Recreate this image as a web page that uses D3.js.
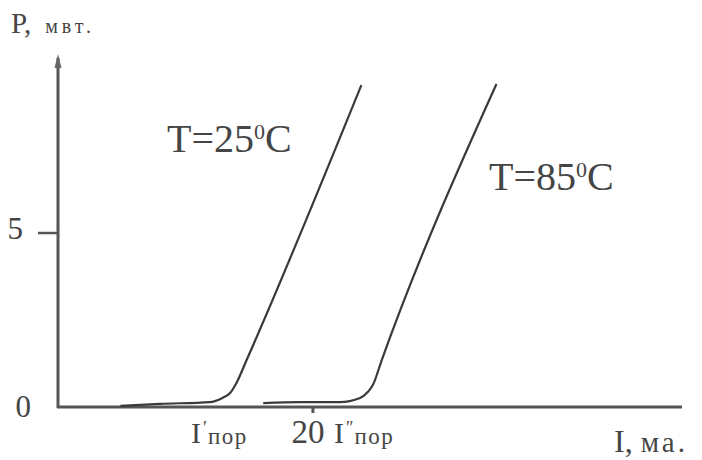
<!DOCTYPE html>
<html>
<head>
<meta charset="utf-8">
<script src="https://cdn.jsdelivr.net/npm/d3@7/dist/d3.min.js"></script>
<style>
  html, body { margin: 0; padding: 0; background: #fff; }
</style>
</head>
<body>
<svg id="chart" width="702" height="460"></svg>
<script>
// ---- data ----
const curve25I = [4.9, 8.0, 11.9, 12.9, 13.5, 14.0, 14.8, 23.8];
const curve25P = [0.03, 0.09, 0.14, 0.26, 0.40, 0.69, 1.35, 9.25];
const curve85I = [16.1, 19.0, 22.1, 23.7, 24.3, 24.7, 25.4, 34.4];
const curve85P = [0.11, 0.14, 0.14, 0.26, 0.43, 0.63, 1.35, 9.28];
const yTicks = [0, 5];
const xTicks = [20];
const seriesLabels = ["T=25", "T=85"];

const FONT = "Liberation Serif";
const svg = d3.select("#chart");
const x = d3.scaleLinear().domain([0, 48.8]).range([58, 680]);
const y = d3.scaleLinear().domain([0, 10]).range([407, 59]);
const ink = "#3a3a3a";
const txt = "#454545";

function addText(xp, yp, size) {
  return svg.append("text").attr("x", xp).attr("y", yp).attr("font-family", FONT)
    .attr("font-size", size).attr("fill", txt);
}

// axes
svg.append("line").attr("x1", x(0)).attr("x2", x(0)).attr("y1", y(0) + 1).attr("y2", 58)
  .attr("stroke", "#555").attr("stroke-width", 3);
svg.append("path").attr("d", `M${x(0)-3.5},68 L${x(0)},54 L${x(0)+3.5},68 Z`).attr("fill", "#666");
svg.append("line").attr("x1", x(0) - 1).attr("x2", 682).attr("y1", y(0)).attr("y2", y(0))
  .attr("stroke", "#555").attr("stroke-width", 3);

// y ticks
yTicks.forEach(t => {
  if (t > 0) {
    svg.append("line").attr("x1", 38).attr("x2", x(0)).attr("y1", y(t)).attr("y2", y(t))
      .attr("stroke", "#555").attr("stroke-width", 2.5);
  }
  addText(t === 0 ? 31 : 23, y(t) + (t === 0 ? 10 : 6), 31).attr("text-anchor", "end").text(t);
});
// x ticks
xTicks.forEach(t => {
  svg.append("line").attr("x1", x(t)).attr("x2", x(t)).attr("y1", y(0)).attr("y2", y(0) + 6)
    .attr("stroke", "#555").attr("stroke-width", 3);
  addText(x(t) - 5, 443, 33).attr("text-anchor", "middle").text(t);
});

// curves
const line = d3.line().x(d => x(d[0])).y(d => y(d[1])).curve(d3.curveMonotoneX);
[[curve25I, curve25P], [curve85I, curve85P]].forEach(([I, P]) => {
  const pts = I.map((v, i) => [v, P[i]]);
  svg.append("path").datum(pts).attr("d", line).attr("fill", "none")
    .attr("stroke", ink).attr("stroke-width", 2.2).attr("stroke-linejoin", "round");
});

// axis titles
const pt = addText(11, 33, 29);
pt.append("tspan").text("P,");
pt.append("tspan").attr("font-size", 20).attr("dx", 14).attr("letter-spacing", 4).text("мвт.");

const it = addText(614, 452, 32);
it.append("tspan").text("I, ");
it.append("tspan").attr("font-size", 29).attr("letter-spacing", 3).text("ма.");

// series labels
function tLabel(xp, yp, label) {
  const t = addText(xp, yp, 40);
  t.append("tspan").text(label);
  t.append("tspan").attr("font-size", 22).attr("dy", -13).text("0");
  t.append("tspan").attr("dy", 13).text("C");
}
tLabel(167, 152, seriesLabels[0]);
tLabel(489, 190, seriesLabels[1]);

// threshold labels
function iLabel(xp, primes) {
  const t = addText(xp, 443, 30);
  t.append("tspan").text("I");
  t.append("tspan").attr("font-size", 18).attr("dx", 2).attr("dy", -9).text(primes);
  t.append("tspan").attr("font-size", 23).attr("dx", 1).attr("dy", 10).attr("letter-spacing", 1.5).text("пор");
}
iLabel(191, "′");
iLabel(334, "″");
</script>
</body>
</html>
